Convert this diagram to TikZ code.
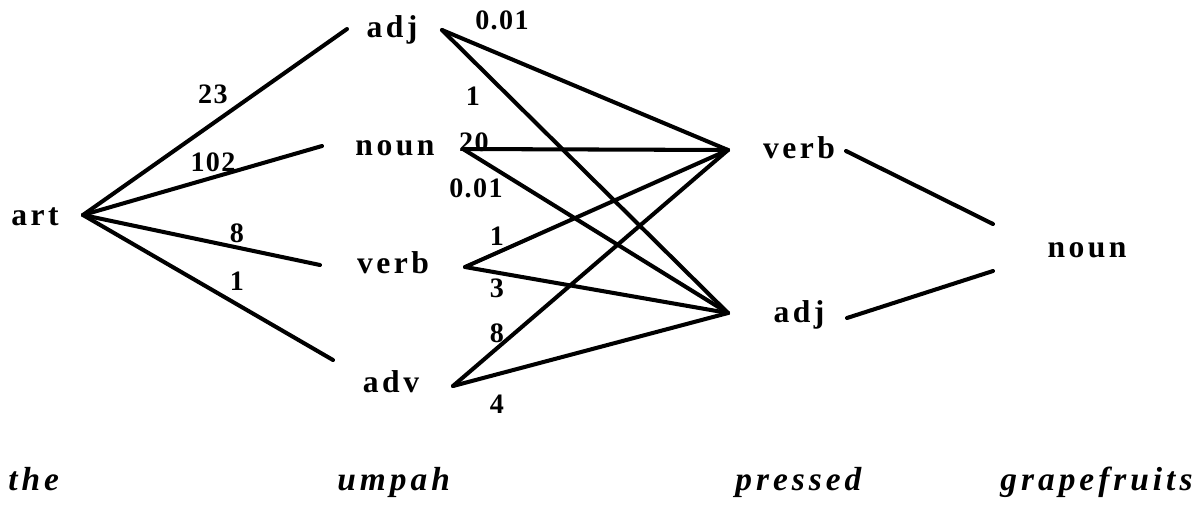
\documentclass[tikz,border=0pt]{standalone}
\usepackage{fontspec}
\setmainfont{Liberation Serif}
\newfontfamily\labfont[LetterSpace=11]{Liberation Serif}
\newfontfamily\numfont[LetterSpace=5]{Liberation Serif}
\newfontfamily\wordfont[LetterSpace=12]{Liberation Serif}
\begin{document}
\begin{tikzpicture}[x=0.02cm,y=-0.02cm,
  tag/.style={inner sep=0pt,anchor=base,font=\labfont\bfseries\fontsize{18}{20}\selectfont},
  num/.style={inner sep=0pt,font=\numfont\bfseries\fontsize{16}{18}\selectfont},
  word/.style={inner sep=0pt,anchor=base west,font=\wordfont\bfseries\itshape\fontsize{19}{21}\selectfont},
  link/.style={line width=2.3pt,line cap=round,line join=round}]
\useasboundingbox (0,0) rectangle (1199,508);
% tag nodes
\node[tag] (art) at (35,225) {art};
\node[tag] (adjA) at (392,37) {adj};
\node[tag] (nounA) at (395,155) {noun};
\node[tag] (verbA) at (393,273) {verb};
\node[tag] (advA) at (391,392) {adv};
\node[tag] (verbB) at (799,158) {verb};
\node[tag] (adjB) at (799,322) {adj};
\node[tag] (nounC) at (1087,257) {noun};
% connection points
\coordinate (art-o) at (83,215);
\coordinate (adjA-i) at (347,29);
\coordinate (nounA-i) at (322,146);
\coordinate (verbA-i) at (320,265);
\coordinate (advA-i) at (333,360);
\coordinate (adjA-o) at (442,30);
\coordinate (nounA-o) at (463,149);
\coordinate (verbA-o) at (465,267);
\coordinate (advA-o) at (453,386);
\coordinate (verbB-i) at (728,150);
\coordinate (adjB-i) at (728,313);
\coordinate (verbB-o) at (846,151);
\coordinate (adjB-o) at (847,318);
\coordinate (nounC-a) at (993,224);
\coordinate (nounC-b) at (993,271);
% edges
\draw[link] (art-o) -- (adjA-i);
\draw[link] (art-o) -- (nounA-i);
\draw[link] (art-o) -- (verbA-i);
\draw[link] (art-o) -- (advA-i);
\draw[link] (adjA-o) -- (verbB-i);
\draw[link] (adjA-o) -- (adjB-i);
\draw[link] (nounA-o) -- (verbB-i);
\draw[link] (nounA-o) -- (adjB-i);
\draw[link] (verbA-o) -- (verbB-i);
\draw[link] (verbA-o) -- (adjB-i);
\draw[link] (advA-o) -- (verbB-i);
\draw[link] (advA-o) -- (adjB-i);
\draw[link] (verbB-o) -- (nounC-a);
\draw[link] (adjB-o) -- (nounC-b);
% numbers
\node[num] (l23) at (213,94) {23};
\node[num] (l102) at (213,162) {102};
\node[num] (l8a) at (237,233) {8};
\node[num] (l1a) at (237,281) {1};
\node[num] (l001a) at (502,20) {0.01};
\node[num] (l1b) at (473,96) {1};
\node[num] (l20) at (474,142) {20};
\node[num] (l001b) at (476,188) {0.01};
\node[num] (l1c) at (497,236) {1};
\node[num] (l3) at (497,288) {3};
\node[num] (l8b) at (497,333) {8};
\node[num] (l4) at (497,404) {4};
% words
\node[word] (w1) at (8,490) {the};
\node[word] (w2) at (337,490) {umpah};
\node[word] (w3) at (735,490) {pressed};
\node[word] (w4) at (1000,490) {grapefruits};
\end{tikzpicture}
\end{document}
